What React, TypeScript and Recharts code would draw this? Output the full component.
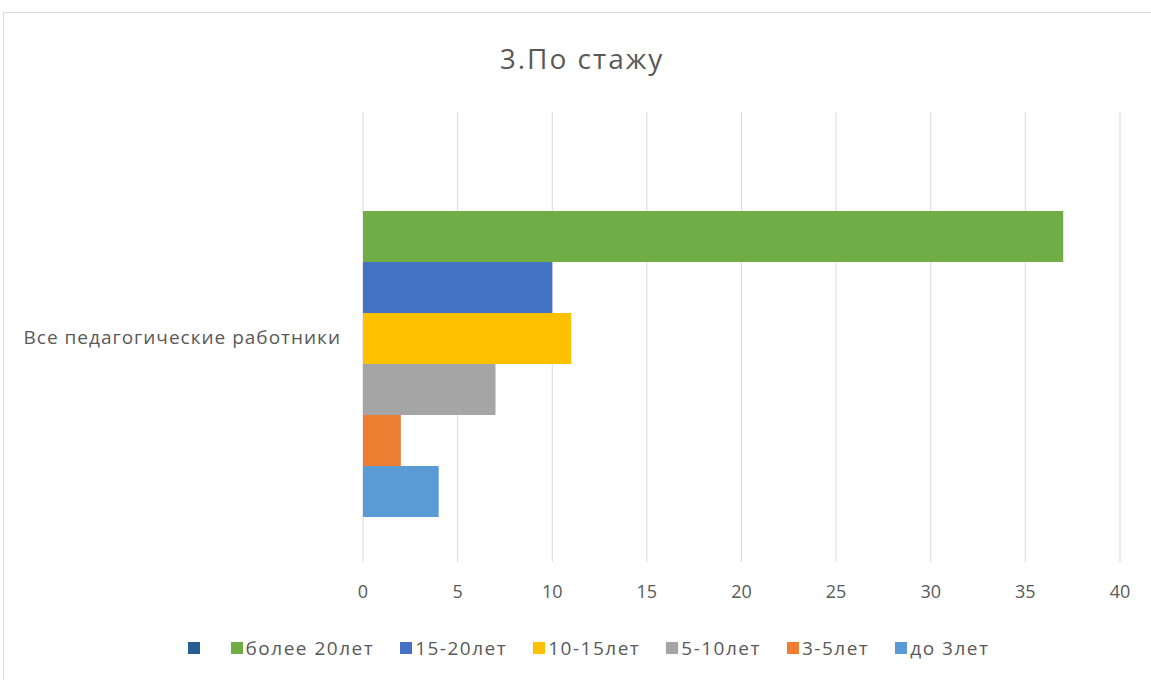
import React from "react";
import { BarChart, Bar, XAxis, YAxis, CartesianGrid, Legend } from "recharts";

const categories = ["Все педагогические работники"];
const seriesNames = ["", "более 20лет", "15-20лет", "10-15лет", "5-10лет", "3-5лет", "до 3лет"];
const seriesKeys = ["s0", "s1", "s2", "s3", "s4", "s5", "s6"];
const seriesValues = [0, 37, 10, 11, 7, 2, 4];
const seriesColors = ["#255E91", "#70AD47", "#4472C4", "#FFC000", "#A5A5A5", "#ED7D31", "#5B9BD5"];
const xTicks = [0, 5, 10, 15, 20, 25, 30, 35, 40];

const data = categories.map((c) => {
  const row: Record<string, string | number> = { name: c };
  seriesKeys.forEach((k, i) => {
    row[k] = seriesValues[i];
  });
  return row;
});

const FONT = "'Open Sans', Roboto, sans-serif";
const TEXT = "#595959";

const LegendContent = () => (
  <div
    style={{
      display: "flex",
      justifyContent: "center",
      alignItems: "center",
      fontFamily: FONT,
      fontSize: 19,
      letterSpacing: 1.5,
      color: TEXT,
      gap: 26,
      paddingLeft: 26,
    }}
  >
    {seriesNames.map((n, i) => (
      <div key={i} style={{ display: "flex", alignItems: "center", gap: 3 }}>
        <span style={{ display: "inline-block", width: 12, height: 12, background: seriesColors[i] }} />
        <span style={{ minWidth: n ? 0 : 2 }}>{n}</span>
      </div>
    ))}
  </div>
);

export default function App() {
  return (
    <div style={{ position: "absolute", left: 0, top: 0, width: 1151, height: 680, background: "#fff" }}>
      <div
        style={{
          position: "absolute",
          left: 3,
          top: 12,
          width: 1160,
          height: 700,
          border: "1.5px solid #d9d9d9",
          boxSizing: "border-box",
        }}
      />
      <div
        style={{
          position: "absolute",
          left: 0,
          top: 39,
          width: 1164,
          textAlign: "center",
          fontFamily: FONT,
          fontSize: 28,
          letterSpacing: 2,
          color: TEXT,
        }}
      >
        3.По стажу
      </div>
      <div style={{ position: "absolute", left: 0, top: 0 }}>
        <BarChart
          width={1151}
          height={680}
          data={data}
          layout="vertical"
          margin={{ top: 112, right: 31, bottom: 42, left: 0 }}
          barCategoryGap={48}
          barGap={0}
        >
          <CartesianGrid horizontal={false} stroke="#d9d9d9" strokeWidth={1} />
          <XAxis
            type="number"
            domain={[0, 40]}
            ticks={xTicks}
            axisLine={false}
            tickLine={false}
            tickMargin={17}
            height={50}
            tick={{ fill: TEXT, fontSize: 18, fontFamily: FONT }}
          />
          <YAxis
            type="category"
            dataKey="name"
            width={363}
            axisLine={false}
            tickLine={false}
            tickSize={0}
            tickMargin={22}
            tick={{ fill: TEXT, fontSize: 19, fontFamily: FONT, letterSpacing: 1 }}
          />
          <Legend
            verticalAlign="bottom"
            content={<LegendContent />}
            wrapperStyle={{ position: "absolute", top: 635, left: 0, width: 1151 }}
          />
          {seriesKeys.map((k, i) => (
            <Bar key={k} dataKey={k} name={seriesNames[i]} fill={seriesColors[i]} isAnimationActive={false} />
          ))}
        </BarChart>
      </div>
    </div>
  );
}
